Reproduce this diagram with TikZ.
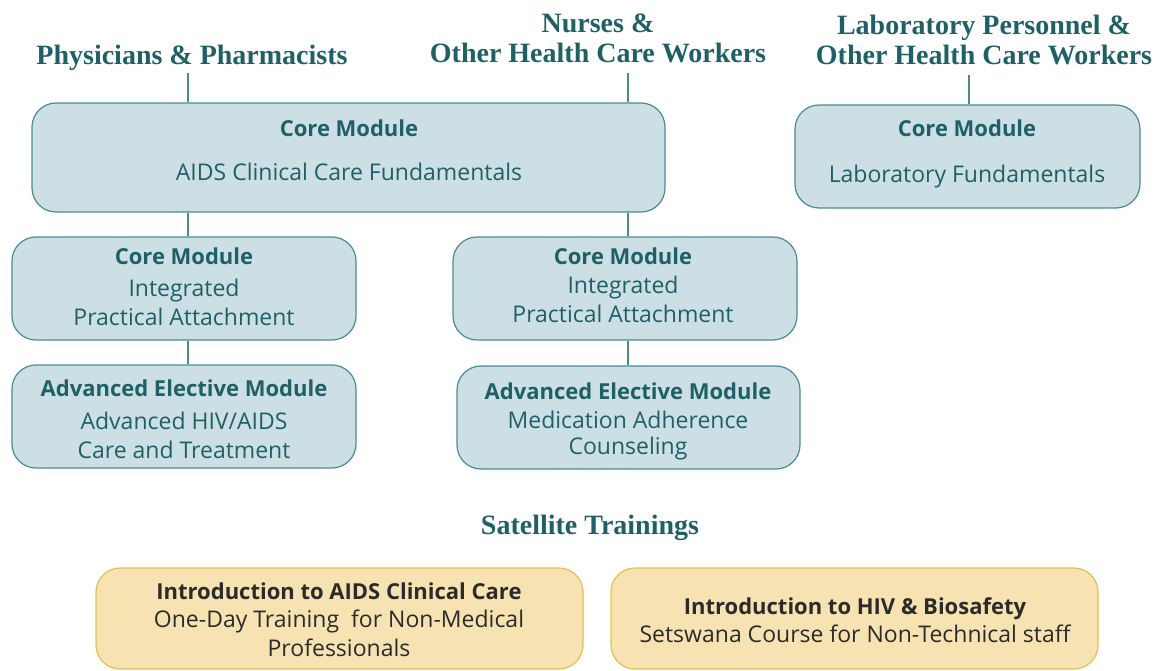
\documentclass[tikz,border=0pt]{standalone}
\usepackage{fontspec}
\setmainfont{Liberation Serif}
\setsansfont{Open Sans}
\definecolor{teal1}{HTML}{1D6166}
\definecolor{tealline}{HTML}{4B8C94}
\definecolor{boxfill}{HTML}{CCDFE4}
\definecolor{yelfill}{HTML}{F6E3B1}
\definecolor{yelline}{HTML}{E6BE52}
\definecolor{darktxt}{HTML}{2B2B2B}
\newcommand{\bt}[1]{{\fontsize{22}{29}\selectfont\bfseries #1}}
\begin{document}
\begin{tikzpicture}[x=1pt,y=-1pt,
  hdr/.style={font=\rmfamily\bfseries\fontsize{28}{30}\selectfont, text=teal1, align=center, inner sep=0pt},
  bbox/.style={draw=tealline, line width=1.2pt, fill=boxfill, rounded corners=24pt, inner sep=0pt},
  ybox/.style={draw=yelline, line width=1.2pt, fill=yelfill, rounded corners=24pt, inner sep=0pt},
  btxt/.style={font=\sffamily\fontsize{23}{29}\selectfont, text=teal1, align=center, inner sep=0pt},
  ytxt/.style={font=\sffamily\fontsize{23}{28.5}\selectfont, text=darktxt, align=center, inner sep=0pt},
  conn/.style={draw=tealline, line width=1.2pt}]
\useasboundingbox (0,0) rectangle (1162,671);
% headers
\node[hdr] (hphys) at (192,58) {Physicians \& Pharmacists};
\node[hdr] (hnurse) at (598,38) {Nurses \&\\Other Health Care Workers};
\node[hdr] (hlab) at (984,40) {Laboratory Personnel \&\\Other Health Care Workers};
% boxes
\node[bbox, minimum width=633pt, minimum height=109pt] (core1) at (348.5,157.5) {};
\node[btxt, anchor=center] (core1t) at (349,150.5) {\bt{Core Module}\\[15pt]AIDS Clinical Care Fundamentals};
\node[bbox, minimum width=345pt, minimum height=103pt] (lab) at (967.5,156.5) {};
\node[btxt] (labt) at (967,154) {\bt{Core Module}\\[17pt]Laboratory Fundamentals};
\node[bbox, minimum width=344pt, minimum height=103pt] (ipaL) at (184,288.5) {};
\node[btxt] (ipaLt) at (184,287) {\bt{Core Module}\\[3pt]Integrated\\Practical Attachment};
\node[bbox, minimum width=344pt, minimum height=103pt] (ipaR) at (625,288.5) {};
\node[btxt] (ipaRt) at (623,285) {\bt{Core Module}\\Integrated\\Practical Attachment};
\node[bbox, minimum width=344pt, minimum height=103pt] (advL) at (184,416.5) {};
\node[btxt] (advLt) at (184,419) {\bt{Advanced Elective Module}\\[4pt]Advanced HIV/AIDS\\Care and Treatment};
\node[bbox, minimum width=343pt, minimum height=103pt] (advR) at (628.5,417.5) {};
\node[btxt] (advRt) at (628,421.5) {\bt{Advanced Elective Module}\\Medication Adherence\\[-3pt]Counseling};
% satellite
\node[hdr] (sat) at (590,528) {Satellite Trainings};
\node[ybox, minimum width=487pt, minimum height=101pt] (y1) at (339.5,618.5) {};
\node[ytxt] (y1t) at (339,619.5) {\bt{Introduction to AIDS Clinical Care}\\One-Day Training\ \ for Non-Medical\\Professionals};
\node[ybox, minimum width=487pt, minimum height=101pt] (y2) at (854.5,618.5) {};
\node[ytxt] (y2t) at (855,620) {\bt{Introduction to HIV \& Biosafety}\\Setswana Course for Non-Technical staff};
% connectors
\coordinate (c1) at (188,73);
\coordinate (c2) at (628,73);
\coordinate (c3) at (969,75);
\draw[conn] (c1) -- (c1 |- core1.north);
\draw[conn] (c2) -- (c2 |- core1.north);
\draw[conn] (c3) -- (c3 |- lab.north);
\draw[conn] (c1 |- core1.south) -- (c1 |- ipaL.north);
\draw[conn] (c2 |- core1.south) -- (c2 |- ipaR.north);
\draw[conn] (c1 |- ipaL.south) -- (c1 |- advL.north);
\draw[conn] (c2 |- ipaR.south) -- (c2 |- advR.north);
\end{tikzpicture}
\end{document}
